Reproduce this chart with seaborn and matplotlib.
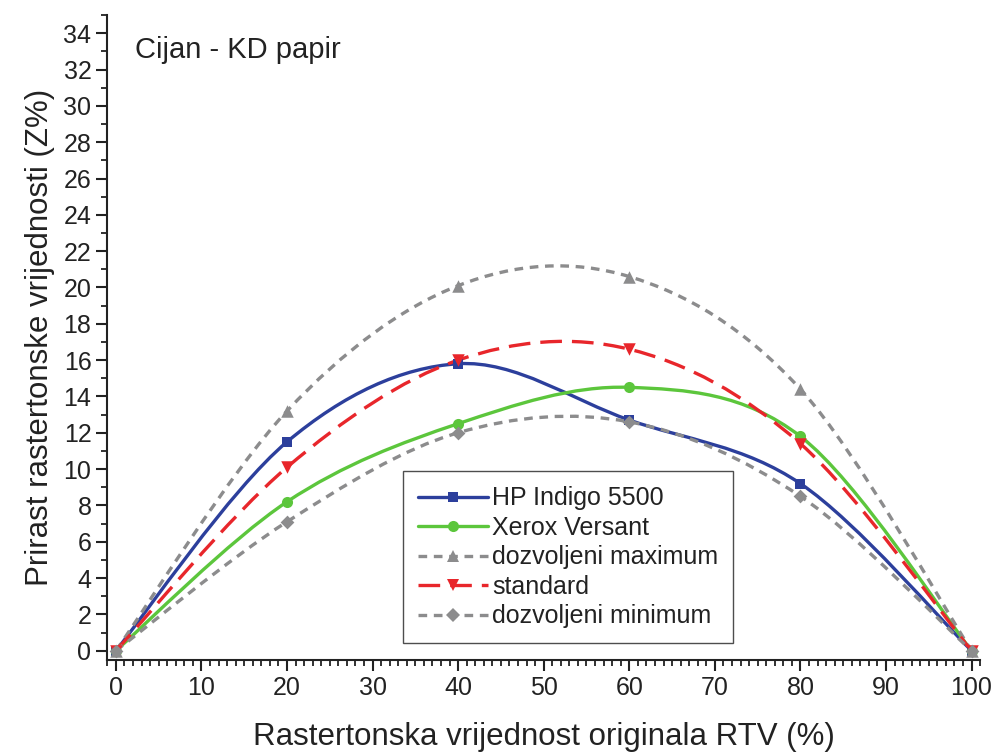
import numpy as np
import pandas as pd
import matplotlib
matplotlib.use("Agg")
import matplotlib.pyplot as plt
from matplotlib.path import Path
from matplotlib.patches import PathPatch
from matplotlib.lines import Line2D
from matplotlib.ticker import MultipleLocator
import seaborn as sns

# Data
rtv = [0, 20, 40, 60, 80, 100]
hp_indigo = [0, 11.5, 15.8, 12.7, 9.2, 0]
xerox = [0, 8.2, 12.5, 14.5, 11.8, 0]
dozv_max = [0, 13.2, 20.1, 20.6, 14.4, 0]
standard = [0, 10.1, 16.0, 16.6, 11.4, 0]
dozv_min = [0, 7.1, 12.0, 12.6, 8.5, 0]

labels = ["HP Indigo 5500", "Xerox Versant", "dozvoljeni maximum",
          "standard", "dozvoljeni minimum"]
series = [hp_indigo, xerox, dozv_max, standard, dozv_min]
colors = ["#2c3f9c", "#5cc63c", "#8c8c8d", "#e8262b", "#8c8c8d"]
markers = ["s", "o", "^", "v", "D"]
msizes = [7, 8, 9, 9, 7]
dashes = [None, None, (2.6, 2.0), (6.5, 3.0), (2.6, 2.0)]


def smooth_path(xs, ys):
    # Catmull-Rom spline written as cubic Bezier segments
    pts = np.column_stack([xs, ys]).astype(float)
    ext = np.vstack([pts[0], pts, pts[-1]])
    verts = [tuple(pts[0])]
    codes = [Path.MOVETO]
    for i in range(1, len(ext) - 2):
        p0, p1, p2, p3 = ext[i - 1], ext[i], ext[i + 1], ext[i + 2]
        c1 = p1 + (p2 - p0) / 6.0
        c2 = p2 - (p3 - p1) / 6.0
        verts += [tuple(c1), tuple(c2), tuple(p2)]
        codes += [Path.CURVE4] * 3
    return Path(verts, codes)


sns.set_style("ticks")
plt.rcParams['font.family'] = ['Liberation Sans', 'DejaVu Sans']

fig = plt.figure(figsize=(9.94, 7.54), dpi=100)
ax = fig.add_axes([0.108, 0.125, 0.878, 0.855])

handles = []
for vals, lab, col, mk, ms, ds in zip(series, labels, colors, markers, msizes, dashes):
    patch = PathPatch(smooth_path(rtv, vals), facecolor="none", edgecolor=col,
                      lw=2.4, capstyle="butt")
    if ds is not None:
        patch.set_linestyle((0, ds))
    ax.add_patch(patch)
    df = pd.DataFrame({"x": rtv, "y": vals})
    sns.scatterplot(data=df, x="x", y="y", marker=mk, s=ms ** 2, color=col,
                    edgecolor=col, linewidth=0, ax=ax, zorder=3)
    h = Line2D([], [], color=col, lw=2.4, marker=mk, markersize=ms,
               markeredgewidth=0)
    if ds is not None:
        h.set_dashes(ds)
    handles.append(h)

ax.set_xlim(-1, 101)
ax.set_ylim(-0.5, 35)
ax.xaxis.set_major_locator(MultipleLocator(10))
ax.xaxis.set_minor_locator(MultipleLocator(1))
ax.yaxis.set_major_locator(MultipleLocator(2))
ax.yaxis.set_minor_locator(MultipleLocator(1))
ax.tick_params(which="major", direction="out", length=8, width=1.5,
               labelsize=18, colors="#222222")
ax.tick_params(which="minor", direction="out", length=4.5, width=1.3,
               colors="#222222")
for side in ["top", "right"]:
    ax.spines[side].set_visible(False)
for side in ["left", "bottom"]:
    ax.spines[side].set_linewidth(1.5)
    ax.spines[side].set_color("#222222")

ax.set_xlabel("Rastertonska vrijednost originala RTV (%)", fontsize=22.5,
              color="#222222", labelpad=16)
ax.set_ylabel("Prirast rastertonske vrijednosti (Z%)", fontsize=22.5,
              color="#222222", labelpad=6)
ax.text(0.032, 0.968, "Cijan - KD papir", transform=ax.transAxes,
        fontsize=21, color="#222222", va="top", ha="left")

leg = ax.legend(handles, labels, loc="lower left", bbox_to_anchor=(0.325, 0.006),
                fontsize=18, frameon=True, fancybox=False, edgecolor="#222222",
                handlelength=2.8, handletextpad=0.15, labelspacing=0.22,
                borderpad=0.6, numpoints=1)
leg.get_frame().set_linewidth(1.0)
for t in leg.get_texts():
    t.set_color("#222222")

fig.savefig("out.png", dpi=100)
